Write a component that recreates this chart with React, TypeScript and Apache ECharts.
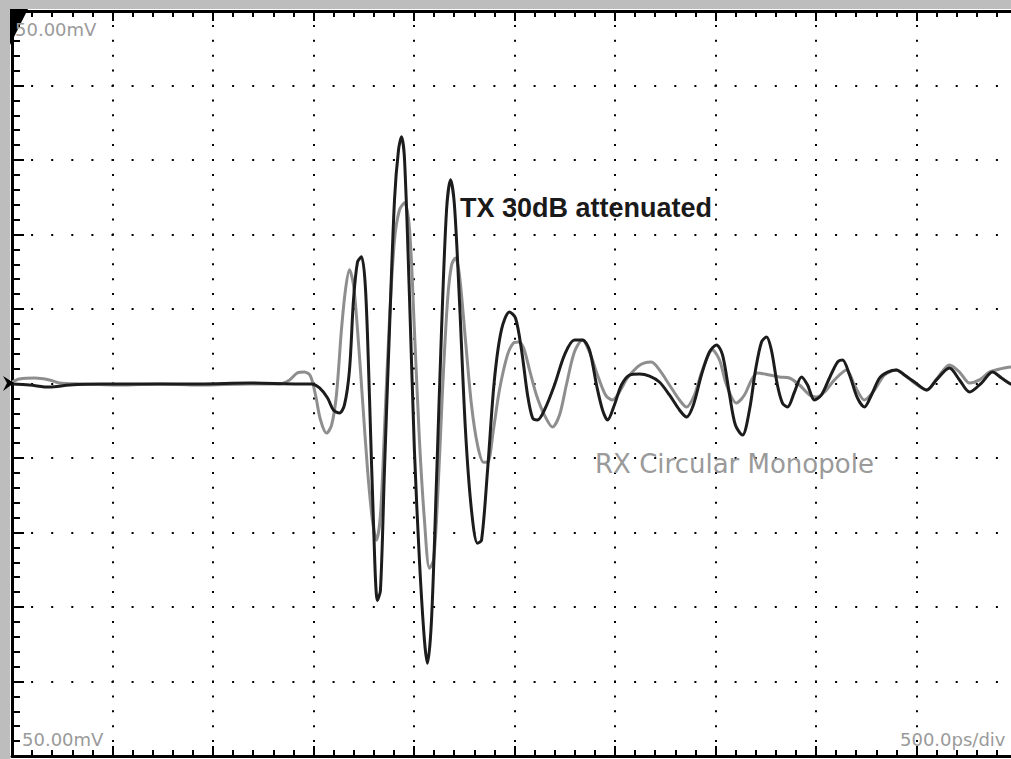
import React, { useEffect, useRef } from "react";
import * as echarts from "echarts";

// Time in ps (500 ps/div), amplitude in mV (50 mV/div)
const txTime = [0, 87, 187, 286, 435, 684, 933, 1182, 1430, 1490, 1530, 1570, 1599, 1629, 1654, 1679, 1699, 1719, 1739, 1759, 1779, 1798, 1818, 1833, 1853, 1878, 1903, 1923, 1938, 1953, 1978, 2002, 2027, 2052, 2067, 2087, 2112, 2137, 2162, 2182, 2201, 2226, 2256, 2286, 2316, 2336, 2366, 2400, 2435, 2475, 2505, 2535, 2565, 2590, 2614, 2649, 2699, 2749, 2798, 2838, 2873, 2908, 2938, 2963, 2997, 3032, 3072, 3122, 3172, 3221, 3271, 3321, 3356, 3390, 3430, 3470, 3505, 3535, 3570, 3599, 3634, 3669, 3699, 3729, 3754, 3778, 3808, 3833, 3858, 3893, 3928, 3958, 3992, 4027, 4067, 4107, 4132, 4167, 4206, 4241, 4276, 4316, 4356, 4400, 4440, 4490, 4550, 4599, 4664, 4714, 4764, 4823, 4878, 4923, 4968, 5000];
const txVolt = [-0.3, -1.0, -2.4, -1.0, -0.3, -0.3, -0.3, 0.3, -0.3, -0.3, -3.0, -9.7, -17.8, -19.8, -14.4, 9.0, 56.1, 81.6, 85.0, 62.8, -11.1, -91.8, -145.6, -138.9, -58.3, 36.0, 123.3, 156.9, 165.6, 150.2, 56.1, -44.7, -118.6, -172.4, -187.8, -158.9, -64.8, 36.0, 116.6, 136.8, 120.0, 56.1, -31.2, -85.0, -107.2, -105.2, -58.1, 2.4, 36.0, 48.0, 44.0, 22.5, -7.7, -23.2, -24.5, -17.8, -1.0, 19.2, 29.2, 29.2, 22.5, -1.0, -17.8, -24.5, -14.4, -1.0, 5.7, 6.4, 5.0, 1.0, -7.7, -17.8, -22.5, -14.4, 5.7, 21.2, 25.9, 19.2, -7.7, -27.9, -34.6, -17.8, 9.0, 27.9, 31.2, 22.5, -1.0, -13.1, -15.8, -5.7, 4.4, -1.0, -11.1, -7.7, 3.7, 14.4, 15.8, 5.7, -9.7, -15.8, -7.7, 3.7, 7.7, 9.1, 5.7, 1.0, -4.4, 2.4, 10.4, 2.4, -5.7, 0.3, 7.7, 3.7, -0.3, -1.7];

const rxTime = [0, 37, 112, 187, 236, 336, 535, 734, 933, 1182, 1331, 1381, 1420, 1455, 1485, 1510, 1535, 1565, 1590, 1614, 1639, 1659, 1679, 1699, 1719, 1744, 1769, 1793, 1813, 1833, 1853, 1878, 1903, 1928, 1953, 1978, 2002, 2027, 2052, 2077, 2097, 2117, 2142, 2167, 2187, 2206, 2226, 2256, 2286, 2316, 2346, 2366, 2395, 2425, 2465, 2495, 2520, 2545, 2575, 2609, 2649, 2689, 2724, 2758, 2798, 2838, 2873, 2913, 2953, 2987, 3022, 3062, 3112, 3147, 3181, 3221, 3271, 3321, 3356, 3395, 3435, 3485, 3520, 3555, 3604, 3644, 3679, 3709, 3769, 3818, 3868, 3918, 3968, 4002, 4042, 4092, 4152, 4191, 4241, 4291, 4341, 4400, 4440, 4490, 4550, 4604, 4664, 4714, 4764, 4813, 4863, 4913, 4968, 5000];
const rxVolt = [1.0, 3.0, 3.7, 2.4, 0.3, -0.3, -1.0, -0.3, -1.0, -0.3, -0.3, 2.4, 7.1, 7.7, 5.0, -7.7, -24.5, -33.3, -27.9, -7.7, 36.0, 62.8, 76.3, 66.2, 36.0, -11.1, -58.1, -91.7, -105.2, -88.4, -31.2, 42.7, 96.4, 116.6, 121.3, 103.2, 36.0, -37.9, -91.7, -124.0, -118.6, -78.3, -4.4, 56.1, 79.6, 84.3, 72.9, 29.2, -14.4, -41.3, -52.8, -52.8, -31.2, -4.4, 19.2, 27.2, 27.9, 23.9, 9.0, -7.7, -21.2, -29.2, -21.2, -1.0, 21.2, 29.2, 21.2, 5.7, -7.7, -11.1, -5.7, 3.7, 11.1, 13.8, 14.4, 9.1, -1.0, -11.1, -15.8, -7.7, 9.1, 22.5, 15.8, -1.0, -13.1, -7.7, 2.4, 7.1, 5.7, 4.4, 3.7, -1.0, -7.7, -9.1, -5.7, 2.4, 9.1, -1.0, -11.1, -4.4, 5.7, 9.1, 5.7, 0.3, -4.4, 3.7, 12.4, 7.7, 0.3, 2.4, 7.7, 9.7, 11.1, 10.4];

const xMin = 0;
const xMax = 5000;
const xStep = 500;
const yMin = -250;
const yMax = 250;
const yStep = 50;

const voltLabel = "50.00mV";
const timeLabel = "500.0ps/div";
const txLabel = "TX 30dB attenuated";
const rxLabel = "RX Circular Monopole";

const TX_COLOR = "#1c1c1c";
const RX_COLOR = "#8e8e8e";
const LABEL_GREY = "#9a9a9a";

export default function App() {
  const ref = useRef<HTMLDivElement>(null);

  useEffect(() => {
    if (!ref.current) return;
    const chart = echarts.init(ref.current, undefined, { renderer: "svg" });

    const tickCommon = {
      axisLine: { show: true, onZero: false, lineStyle: { color: "#000", width: 3 } },
      axisLabel: { show: false },
    };

    chart.setOption({
      animation: false,
      backgroundColor: "#ffffff",
      grid: { left: 12, top: 11, width: 1005, height: 745, containLabel: false },
      xAxis: [
        {
          type: "value",
          min: xMin,
          max: xMax,
          interval: xStep,
          position: "bottom",
          ...tickCommon,
          axisTick: { show: true, inside: true, length: 10, lineStyle: { color: "#000", width: 2 } },
          minorTick: { show: true, splitNumber: 5, length: 6, lineStyle: { color: "#000", width: 2 } },
          splitLine: {
            show: true,
            lineStyle: { color: "#000", width: 2, type: [2, 12.9], dashOffset: 1 },
          },
        },
        {
          type: "value",
          min: xMin,
          max: xMax,
          interval: xStep,
          position: "top",
          ...tickCommon,
          axisTick: { show: true, inside: true, length: 10, lineStyle: { color: "#000", width: 2 } },
          minorTick: { show: true, splitNumber: 5, length: 6, lineStyle: { color: "#000", width: 2 } },
          splitLine: { show: false },
        },
      ],
      yAxis: [
        {
          type: "value",
          min: yMin,
          max: yMax,
          interval: yStep,
          position: "left",
          ...tickCommon,
          axisTick: { show: true, inside: true, length: 12, lineStyle: { color: "#000", width: 2 } },
          minorTick: { show: true, splitNumber: 5, length: 8, lineStyle: { color: "#000", width: 2 } },
          splitLine: {
            show: true,
            lineStyle: { color: "#000", width: 2, type: [2, 18.1], dashOffset: 1 },
          },
        },
      ],
      series: [
        {
          name: "RX Circular Monopole",
          type: "line",
          xAxisIndex: 0,
          yAxisIndex: 0,
          showSymbol: false,
          smooth: 0.3,
          lineStyle: { color: RX_COLOR, width: 3 },
          data: rxTime.map((t, i) => [t, rxVolt[i]]),
          z: 3,
        },
        {
          name: "TX 30dB attenuated",
          type: "line",
          xAxisIndex: 0,
          yAxisIndex: 0,
          showSymbol: false,
          smooth: 0.3,
          lineStyle: { color: TX_COLOR, width: 3 },
          data: txTime.map((t, i) => [t, txVolt[i]]),
          z: 4,
        },
      ],
      graphic: [
        { type: "rect", shape: { x: 0, y: 0, width: 10, height: 759 }, style: { fill: "#bdbdbd" }, z: 10 },
        { type: "rect", shape: { x: 0, y: 0, width: 1024, height: 9 }, style: { fill: "#bdbdbd" }, z: 10 },
        {
          type: "polygon",
          shape: { points: [[10, 9], [28, 9], [10, 45]] },
          style: { fill: "#000" },
          z: 11,
        },
        {
          type: "polygon",
          shape: { points: [[3, 376], [14, 383], [3, 391], [7, 383]] },
          style: { fill: "#000" },
          z: 11,
        },
        {
          type: "text",
          x: 15,
          y: 29,
          style: { text: voltLabel, fill: LABEL_GREY, font: "18px 'DejaVu Sans'", verticalAlign: "middle" },
          z: 12,
        },
        {
          type: "text",
          x: 22,
          y: 739,
          style: { text: voltLabel, fill: LABEL_GREY, font: "18px 'DejaVu Sans'", verticalAlign: "middle" },
          z: 12,
        },
        {
          type: "text",
          x: 900,
          y: 739,
          style: { text: timeLabel, fill: LABEL_GREY, font: "18px 'DejaVu Sans'", verticalAlign: "middle" },
          z: 12,
        },
        {
          type: "text",
          x: 460,
          y: 208,
          style: { text: txLabel, fill: "#1a1a1a", font: "bold 27px 'Liberation Sans'", verticalAlign: "middle" },
          z: 12,
        },
        {
          type: "text",
          x: 595,
          y: 464,
          style: { text: rxLabel, fill: LABEL_GREY, font: "26px 'DejaVu Sans'", verticalAlign: "middle" },
          z: 12,
        },
      ],
    });

    return () => chart.dispose();
  }, []);

  return (
    <div
      style={{
        position: "fixed",
        left: 0,
        top: 0,
        width: 1011,
        height: 759,
        overflow: "hidden",
        background: "#fff",
      }}
    >
      <div ref={ref} style={{ width: 1024, height: 759 }} />
    </div>
  );
}
